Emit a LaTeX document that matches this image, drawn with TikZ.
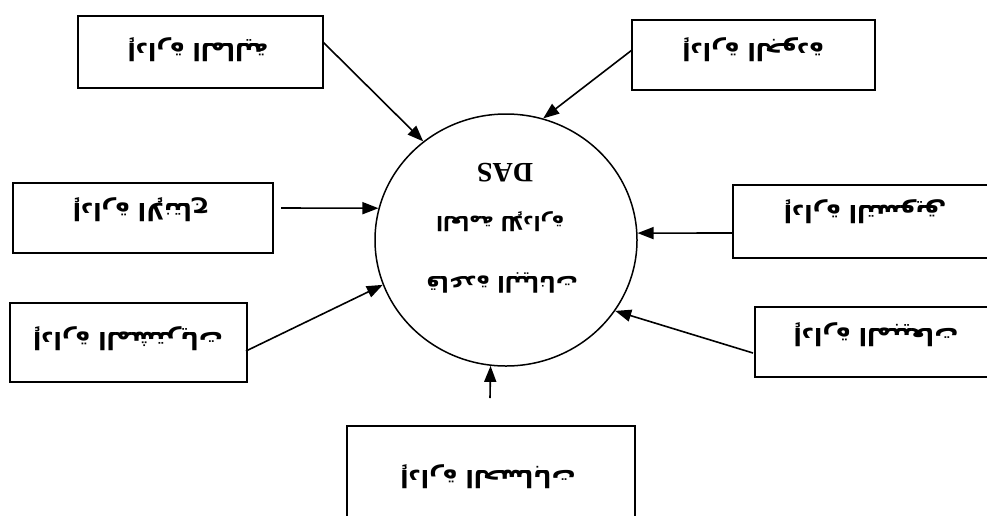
\documentclass[tikz,border=0pt]{standalone}
\usepackage{fontspec}
\setmainfont{Liberation Serif}
\newfontfamily\arabicfont[Script=Arabic]{DejaVu Sans}
\TeXXeTstate=1
\usetikzlibrary{arrows.meta,shapes.geometric}
\newcommand\artext[1]{\arabicfont\bfseries\beginR #1\endR}
\tikzset{
  dept/.style={draw, line width=1.8pt, inner sep=0pt},
  hub/.style={draw, ellipse, line width=1.5pt, inner sep=0pt},
  flip/.style={rotate=180, inner sep=0pt, font=\fontsize{24}{28}\selectfont},
  feed/.style={line width=1.6pt, -{Triangle[length=16pt,width=12pt]}},
}
\begin{document}
\begin{tikzpicture}[x=1pt,y=-1pt]
\useasboundingbox (0,0) rectangle (987,515);
\clip (0,0) rectangle (987,515);

% department boxes
\node[dept, minimum width=245pt, minimum height=72pt] (tl) at (200.5,52) {};
\node[dept, minimum width=243pt, minimum height=70pt] (tr) at (753.5,55) {};
\node[dept, minimum width=260pt, minimum height=70pt] (ml) at (143,218) {};
\node[dept, minimum width=264pt, minimum height=73pt] (mr) at (865,221.5) {};
\node[dept, minimum width=237pt, minimum height=79pt] (bl) at (128.5,342.5) {};
\node[dept, minimum width=242pt, minimum height=70pt] (br) at (876,342) {};
\node[dept, minimum width=288pt, minimum height=102pt] (bt) at (491,477) {};

% labels, set upside down
\node[flip] (tlt) at (198,50) {\artext{إدارة المالية}};
\node[flip] (trt) at (753,50) {\artext{إدارة الجودة}};
\node[flip] (mlt) at (141,210) {\artext{إدارة الإنتاج}};
\node[flip] (mrt) at (865,212) {\artext{إدارة التسويق}};
\node[flip] (blt) at (128,339) {\artext{إدارة المشتريات}};
\node[flip] (brt) at (876,335) {\artext{إدارة المبيعات}};
\node[flip] (btt) at (488,477) {\artext{إدارة الحسابات}};

% central system
\node[hub, minimum width=262pt, minimum height=252pt] (das) at (506,240) {};
\node[flip, font=\bfseries\fontsize{28}{30}\selectfont] (dast) at (505,173) {DAS};
\node[flip, font=\fontsize{20}{24}\selectfont] (l2) at (500,222) {\artext{العامة للإدارة}};
\node[flip, font=\fontsize{22}{26}\selectfont] (l1) at (502,283) {\artext{قاعدة البيانات}};

% arrow tails
\coordinate (stl) at (323,42);
\coordinate (str) at (632,50);
\coordinate (sml) at (281,208);
\coordinate (smr) at (733,233);
\coordinate (sbl) at (246,351);
\coordinate (sbr) at (753,353);
\coordinate (sbt) at (490,398);

\draw[feed] (stl) -- (das.130);
\draw[feed] (str) -- (das.73);
\draw[feed] (sml) -- (das.166);
\draw[feed] (smr) -- (das.3);
\draw[feed] (sbl) -- (das.200);
\draw[feed] (sbr) -- (das.327);
\draw[feed] (sbt) -- (das.263);
\end{tikzpicture}
\end{document}
